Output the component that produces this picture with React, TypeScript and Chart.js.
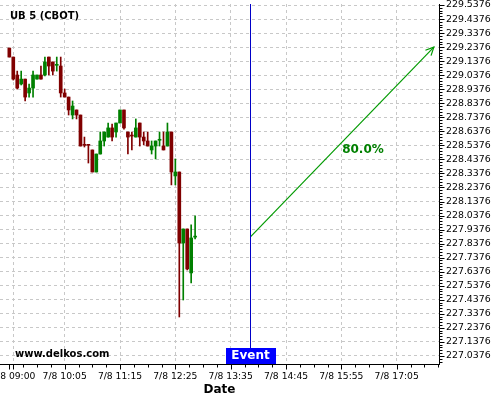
import React, { useEffect, useRef } from 'react';
import { Chart, registerables } from 'chart.js';

Chart.register(...registerables);

// ---- Data (5-minute candles, 7/8) ----
const times = [
  '08:55', '09:00', '09:05', '09:10', '09:15', '09:20', '09:25', '09:30', '09:35', '09:40',
  '09:45', '09:50', '09:55', '10:00', '10:05', '10:10', '10:15', '10:20', '10:25', '10:30',
  '10:35', '10:40', '10:45', '10:50', '10:55', '11:00', '11:05', '11:10', '11:15', '11:20',
  '11:25', '11:30', '11:35', '11:40', '11:45', '11:50', '11:55', '12:00', '12:05', '12:10',
  '12:15', '12:20', '12:25', '12:30', '12:35', '12:40', '12:45', '12:50',
];
const opens = [
  229.231, 229.167, 229.039, 228.975, 229.010, 228.911, 228.946, 229.010, 229.039, 229.039,
  229.167, 229.132, 229.108, 229.103, 228.911, 228.882, 228.754, 228.790, 228.754, 228.540,
  228.540, 228.505, 228.348, 228.476, 228.569, 228.597, 228.662, 228.633, 228.697, 228.790,
  228.633, 228.606, 228.597, 228.697, 228.597, 228.569, 228.505, 228.533, 228.574, 228.533,
  228.533, 228.633, 228.320, 228.348, 227.842, 227.942, 227.629, 227.884,
];
const highs = [
  229.231, 229.167, 229.067, 229.067, 229.010, 228.975, 229.067, 229.039, 229.103, 229.167,
  229.167, 229.132, 229.167, 229.167, 228.939, 228.882, 228.854, 228.790, 228.754, 228.597,
  228.540, 228.505, 228.476, 228.633, 228.633, 228.697, 228.690, 228.697, 228.790, 228.790,
  228.633, 228.633, 228.726, 228.697, 228.633, 228.633, 228.569, 228.569, 228.633, 228.633,
  228.697, 228.633, 228.441, 228.348, 227.942, 227.942, 227.971, 228.035,
];
const lows = [
  229.167, 229.003, 228.939, 228.968, 228.854, 228.882, 228.882, 229.010, 229.010, 229.032,
  229.039, 229.039, 229.067, 228.882, 228.882, 228.754, 228.726, 228.726, 228.533, 228.526,
  228.412, 228.348, 228.348, 228.476, 228.533, 228.597, 228.569, 228.597, 228.697, 228.654,
  228.476, 228.505, 228.597, 228.533, 228.541, 228.533, 228.476, 228.441, 228.533, 228.505,
  228.533, 228.256, 228.256, 227.315, 227.436, 227.650, 227.558, 227.871,
];
const closes = [
  229.167, 229.010, 228.946, 229.010, 228.882, 228.946, 229.039, 229.039, 229.010, 229.132,
  229.103, 229.067, 229.112, 228.911, 228.882, 228.790, 228.818, 228.754, 228.533, 228.538,
  228.538, 228.348, 228.476, 228.569, 228.633, 228.662, 228.597, 228.697, 228.790, 228.662,
  228.597, 228.604, 228.662, 228.597, 228.569, 228.533, 228.533, 228.569, 228.577, 228.505,
  228.633, 228.348, 228.348, 227.842, 227.942, 227.657, 227.878, 227.886,
];

const xTickTimes = ['09:00', '10:05', '11:15', '12:25', '13:35', '14:45', '15:55', '17:05'];
const yTickLabels = [
  '227.0376', '227.1376', '227.2376', '227.3376', '227.4376', '227.5376', '227.6376',
  '227.7376', '227.8376', '227.9376', '228.0376', '228.1376', '228.2376', '228.3376',
  '228.4376', '228.5376', '228.6376', '228.7376', '228.8376', '228.9376', '229.0376',
  '229.1376', '229.2376', '229.3376', '229.4376', '229.5376',
];
const datePrefix = '7/8 ';
const eventTime = '14:00';
const arrowTimes = ['14:00', '17:52'];
const arrowValues = [227.886, 229.238];
const probabilityText = '80.0%';
const symbolTitle = 'UB 5 (CBOT)';
const watermark = 'www.delkos.com';
const eventText = 'Event';

const X_MIN = 523.2;
const X_MAX = 1078.5;
const Y_MIN = 226.98;
const Y_MAX = 229.545;

const UP = '#008000';
const DOWN = '#800000';
const ARROW = '#009a00';
const EVENT = '#0000c8';
const FONT = "'DejaVu Sans', sans-serif";

const toMin = (t: string) => {
  const [h, m] = t.split(':').map(Number);
  return h * 60 + m;
};
const fmtMin = (v: number) => {
  const h = Math.floor(v / 60);
  const m = Math.round(v - h * 60);
  return String(h).padStart(2, '0') + ':' + String(m).padStart(2, '0');
};

const overlayPlugin = {
  id: 'overlay',
  afterDraw(chart: any) {
    const { ctx, chartArea } = chart;
    const xs = chart.scales.x;
    const ys = chart.scales.y;
    ctx.save();

    // axis tick marks (major + minor)
    ctx.strokeStyle = '#000';
    ctx.lineWidth = 1;
    ctx.beginPath();
    const rx = Math.round(chartArea.right) + 0.5;
    const y0 = parseFloat(yTickLabels[0]);
    for (let k = -5; k <= 200; k++) {
      const v = y0 + k * 0.02;
      if (v < Y_MIN || v > Y_MAX) continue;
      const py = Math.round(ys.getPixelForValue(v)) + 0.5;
      const major = ((k % 5) + 5) % 5 === 0;
      ctx.moveTo(rx, py);
      ctx.lineTo(rx + (major ? 5 : 3), py);
    }
    const by = Math.round(chartArea.bottom) + 0.5;
    const step = 17.5;
    const base = toMin(xTickTimes[1]);
    for (let k = -8; k <= 40; k++) {
      const v = base + k * step;
      if (v < X_MIN || v > X_MAX) continue;
      const px = Math.round(xs.getPixelForValue(v)) + 0.5;
      const major = ((k % 4) + 4) % 4 === 0;
      ctx.moveTo(px, by);
      ctx.lineTo(px, by + (major ? 5 : 3));
    }
    const p0 = Math.round(xs.getPixelForValue(toMin(xTickTimes[0]))) + 0.5;
    ctx.moveTo(p0, by);
    ctx.lineTo(p0, by + 5);
    ctx.stroke();

    // event line
    const ex = Math.round(xs.getPixelForValue(toMin(eventTime))) + 0.5;
    ctx.strokeStyle = EVENT;
    ctx.beginPath();
    ctx.moveTo(ex, chartArea.top);
    ctx.lineTo(ex, chartArea.bottom);
    ctx.stroke();

    // arrow head
    const ax0 = xs.getPixelForValue(toMin(arrowTimes[0]));
    const ay0 = ys.getPixelForValue(arrowValues[0]);
    const ax1 = xs.getPixelForValue(toMin(arrowTimes[1]));
    const ay1 = ys.getPixelForValue(arrowValues[1]);
    const ang = Math.atan2(ay1 - ay0, ax1 - ax0);
    const hl = 9;
    ctx.strokeStyle = ARROW;
    ctx.lineWidth = 1.2;
    ctx.beginPath();
    ctx.moveTo(ax1 - hl * Math.cos(ang - 0.45), ay1 - hl * Math.sin(ang - 0.45));
    ctx.lineTo(ax1, ay1);
    ctx.lineTo(ax1 - hl * Math.cos(ang + 0.45), ay1 - hl * Math.sin(ang + 0.45));
    ctx.stroke();

    // probability label
    ctx.fillStyle = '#008000';
    ctx.font = `bold 12px ${FONT}`;
    ctx.textAlign = 'left';
    ctx.textBaseline = 'middle';
    ctx.fillText(probabilityText, (ax0 + ax1) / 2, (ay0 + ay1) / 2 + 8);

    // event box
    ctx.font = `bold 12px ${FONT}`;
    const tw = ctx.measureText(eventText).width;
    const bw = Math.round(tw + 12);
    const bh = 16;
    ctx.fillStyle = '#0000ff';
    ctx.fillRect(Math.round(ex - bw / 2), Math.round(chartArea.bottom) - bh, bw, bh);
    ctx.fillStyle = '#fff';
    ctx.textAlign = 'center';
    ctx.fillText(eventText, ex, Math.round(chartArea.bottom) - bh / 2);

    // texts
    ctx.fillStyle = '#000';
    ctx.textAlign = 'left';
    ctx.font = `bold 10px ${FONT}`;
    ctx.fillText(symbolTitle, 10, 16);
    ctx.fillText(watermark, 15, 354);

    ctx.restore();
  },
};

export default function App() {
  const ref = useRef<HTMLCanvasElement | null>(null);

  useEffect(() => {
    document.body.style.margin = '0';
    if (!ref.current) return;
    const colors = closes.map((c, i) => (c >= opens[i] ? UP : DOWN));
    const chart = new Chart(ref.current, {
      type: 'bar',
      data: {
        datasets: [
          {
            type: 'bar',
            data: times.map((t, i) => ({ x: toMin(t), y: [lows[i], highs[i]] })) as any,
            backgroundColor: colors,
            barThickness: 1,
            grouped: false,
            order: 2,
          } as any,
          {
            type: 'bar',
            data: times.map((t, i) => ({ x: toMin(t), y: [opens[i], closes[i]] })) as any,
            backgroundColor: colors,
            barThickness: 3,
            minBarLength: 1,
            grouped: false,
            order: 1,
          } as any,
          {
            type: 'line',
            data: arrowTimes.map((t, i) => ({ x: toMin(t), y: arrowValues[i] })) as any,
            borderColor: ARROW,
            borderWidth: 1.2,
            pointRadius: 0,
            order: 0,
          } as any,
        ],
      },
      options: {
        responsive: false,
        animation: false,
        layout: { padding: { top: 4, left: 0, right: 0, bottom: 0 } },
        plugins: { legend: { display: false }, tooltip: { enabled: false } },
        scales: {
          x: {
            type: 'linear',
            position: 'bottom',
            min: X_MIN,
            max: X_MAX,
            offset: false,
            afterBuildTicks: (s: any) => {
              s.ticks = xTickTimes.map((t) => ({ value: toMin(t) }));
            },
            afterFit: (s: any) => {
              s.paddingLeft = 0;
              s.paddingRight = 0;
              s.height = 36;
            },
            ticks: {
              autoSkip: false,
              maxRotation: 0,
              minRotation: 0,
              padding: 7,
              color: '#000',
              font: { family: FONT, size: 9.2 },
              callback: (v: any) => datePrefix + fmtMin(Number(v)),
            },
            grid: { color: '#c8c8c8', drawTicks: false, offset: false },
            border: { display: true, color: '#000', width: 1, dash: [3, 3] },
            title: {
              display: true,
              text: 'Date',
              color: '#000',
              font: { family: FONT, size: 12, weight: 'bold' },
              padding: { top: 0, bottom: 3 },
            },
          } as any,
          y: {
            type: 'linear',
            position: 'right',
            min: Y_MIN,
            max: Y_MAX,
            afterBuildTicks: (s: any) => {
              s.ticks = yTickLabels.map((t) => ({ value: parseFloat(t) }));
            },
            afterFit: (s: any) => {
              s.width = 61;
              s.paddingTop = 0;
              s.paddingBottom = 0;
            },
            ticks: {
              autoSkip: false,
              padding: 7,
              color: '#000',
              font: { family: FONT, size: 9.4 },
              callback: (v: any) => Number(v).toFixed(4),
            },
            grid: { color: '#c8c8c8', drawTicks: false },
            border: { display: true, color: '#000', width: 1, dash: [3, 3] },
          } as any,
        },
      },
      plugins: [overlayPlugin],
    });
    return () => chart.destroy();
  }, []);

  return (
    <div style={{ position: 'absolute', left: 0, top: 0, width: 500, height: 400, background: '#fff' }}>
      <canvas ref={ref} width={500} height={400} style={{ display: 'block' }} />
    </div>
  );
}
